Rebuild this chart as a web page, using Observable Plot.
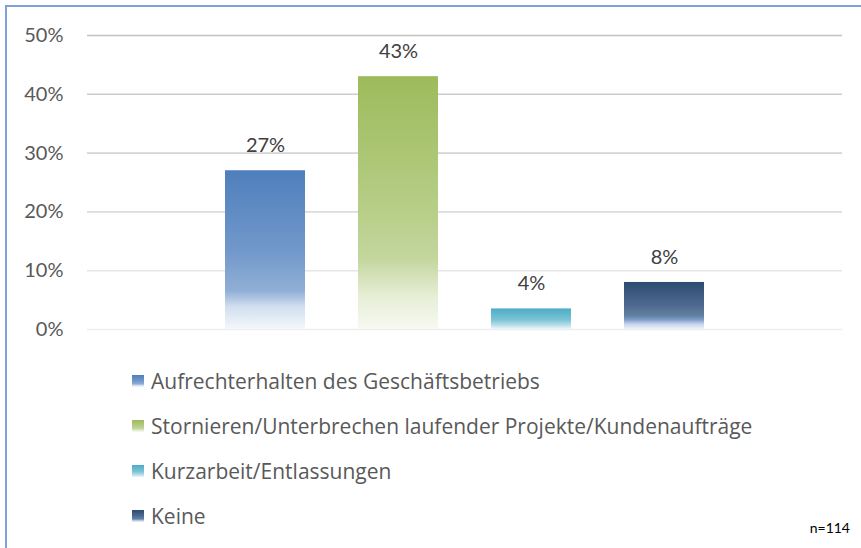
<!DOCTYPE html>
<html>
<head>
<meta charset="utf-8">
<script src="https://cdn.jsdelivr.net/npm/d3@7"></script>
<script src="https://cdn.jsdelivr.net/npm/@observablehq/plot@0.6"></script>
<style>
  html, body { margin: 0; padding: 0; background: #fff; }
  body { width: 861px; height: 548px; position: relative; overflow: hidden; font-family: Lato, "Open Sans", sans-serif; }
  #frame { position: absolute; left: 5px; top: 5px; width: 900px; height: 600px; border-left: 2px solid #7fa0da; border-top: 2px solid #7fa0da; box-sizing: border-box; }
  #chart { position: absolute; left: 0; top: 0; }
  #legend { position: absolute; left: 132px; top: 358px; }
  .item { height: 45px; display: flex; align-items: center; font-family: "Open Sans", sans-serif; font-size: 21px; color: #595959; }
  .item svg { margin-right: 7px; }
  #note { position: absolute; right: 11px; top: 519px; font-size: 14px; color: #000; }
</style>
</head>
<body>
<div id="frame"></div>
<div id="chart"></div>
<div id="legend"></div>
<div id="note"></div>
<script>
const categories = [
  "Aufrechterhalten des Geschäftsbetriebs",
  "Stornieren/Unterbrechen laufender Projekte/Kundenaufträge",
  "Kurzarbeit/Entlassungen",
  "Keine"
];
const values = [0.27, 0.43, 0.035, 0.08];
const yTicks = [0, 0.1, 0.2, 0.3, 0.4, 0.5];
const sampleNote = "n=114";

// gradient stops per series (offset, color)
const gradients = [
  [[0, "#4e7fbc"], [0.5, "#7198ca"], [0.76, "#90afd6"], [0.86, "#d2dfef"], [1, "#f4f7fc"]],
  [[0, "#9dbb5b"], [0.5, "#b5cd85"], [0.72, "#c3d69d"], [0.87, "#e6eed6"], [1, "#f8f9f3"]],
  [[0, "#4bacc6"], [0.55, "#7cc3d5"], [0.8, "#b4dde8"], [1, "#eef7fa"]],
  [[0, "#2d4a70"], [0.5, "#4e6a90"], [0.72, "#64809f"], [0.8, "#7d9dcb"], [0.9, "#c8d6ec"], [1, "#f0f3f9"]]
];

const data = categories.map((c, i) => ({cat: c, value: values[i]}));

const plot = Plot.plot({
  width: 861,
  height: 345,
  marginLeft: 87,
  marginRight: 19,
  marginTop: 35,
  marginBottom: 16,
  style: {fontFamily: "Lato, 'Open Sans', sans-serif", fontSize: "20px", color: "#595959", background: "transparent"},
  x: {domain: categories, paddingInner: 0.4, paddingOuter: 1.038, axis: null},
  y: {domain: [0, 0.5], ticks: yTicks, tickFormat: d3.format(".0%"), tickSize: 0, tickPadding: 24, label: null},
  marks: [
    Plot.ruleY(yTicks, {stroke: d => d3.interpolateRgb("#eeeeee", "#c2c2c2")(d / 0.5), strokeWidth: 1.6}),
    ...data.map((d, i) => Plot.barY([d], {x: "cat", y: "value", fill: `url(#grad${i})`, inset: 0})),
    Plot.text(data, {x: "cat", y: "value", text: d => Math.round(d.value * 100) + "%", dy: -25, fill: "#404040", fontSize: 20}),
    Plot.axisY({ticks: yTicks, tickFormat: d3.format(".0%"), tickSize: 0, tickPadding: 24, label: null, fill: "#595959"})
  ]
});

// add gradient definitions
const svg = d3.select(plot);
const defs = svg.insert("defs", ":first-child");
gradients.forEach((stops, i) => {
  const g = defs.append("linearGradient").attr("id", `grad${i}`)
    .attr("x1", 0).attr("y1", 0).attr("x2", 0).attr("y2", 1);
  stops.forEach(([o, c]) => g.append("stop").attr("offset", o).attr("stop-color", c));
});
document.getElementById("chart").appendChild(plot);

// legend
const legend = d3.select("#legend");
categories.forEach((c, i) => {
  const item = legend.append("div").attr("class", "item");
  const s = item.append("svg").attr("width", 12).attr("height", 12);
  s.append("rect").attr("width", 12).attr("height", 12).attr("fill", `url(#grad${i})`);
  item.append("span").text(c);
});
document.getElementById("note").textContent = sampleNote;
</script>
</body>
</html>
